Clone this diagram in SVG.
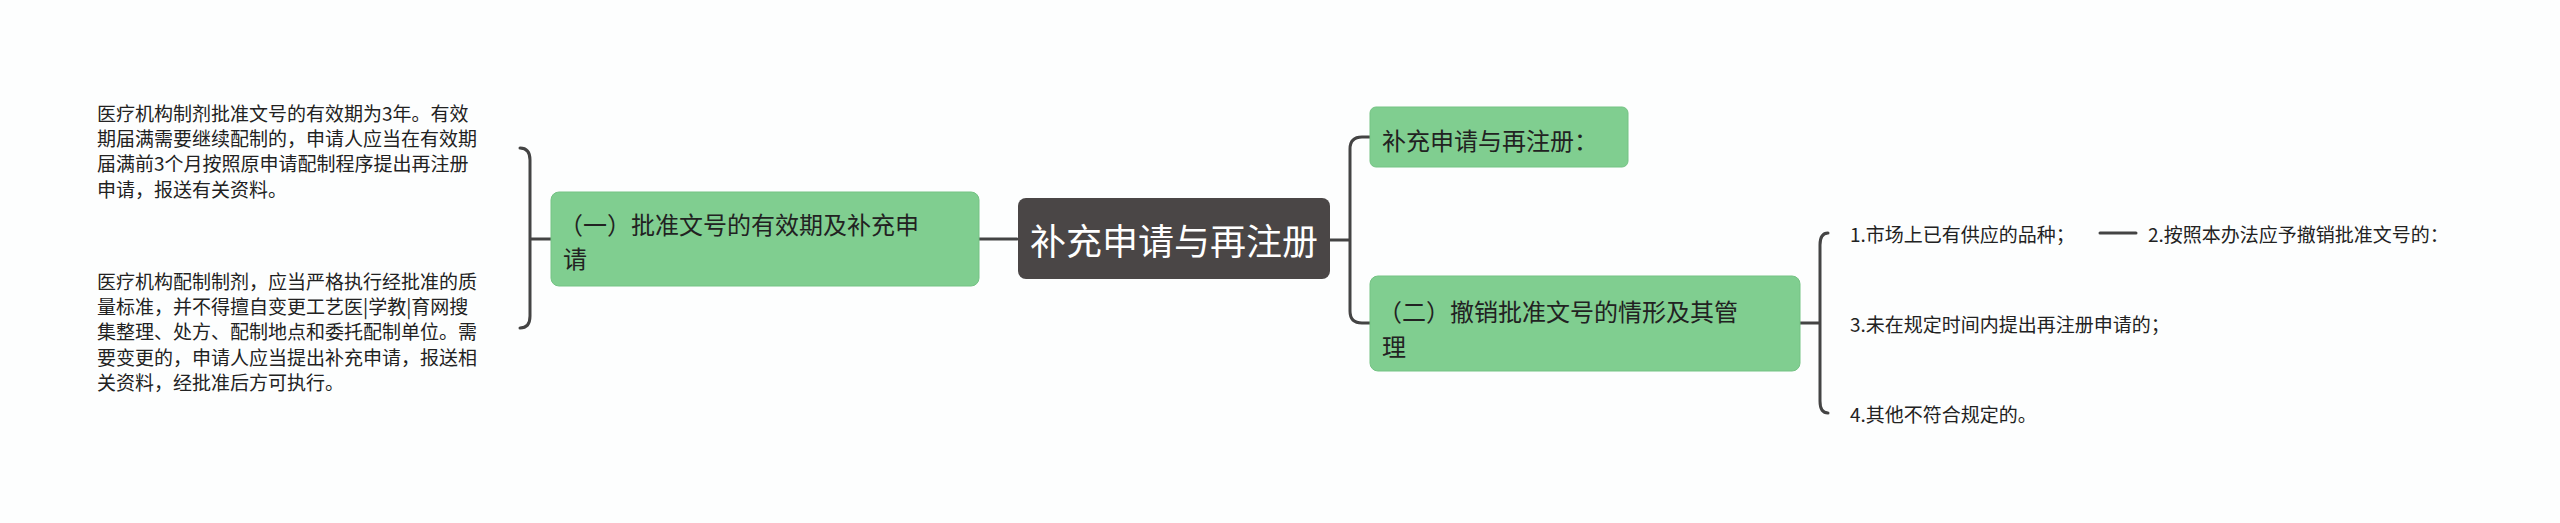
<svg xmlns="http://www.w3.org/2000/svg" width="2560" height="523" viewBox="0 0 2560 523">
<style>
text{font-family:"Noto Sans CJK SC","Noto Sans",sans-serif;fill:#222;dominant-baseline:central}
.leaf{font-size:19px}
.sub{font-size:24px}
.g{fill:#80ce90;stroke:#74c384;stroke-width:1}
.c{fill:none;stroke:#444;stroke-width:3;stroke-linecap:round}
</style>
<rect width="2560" height="523" fill="#fdfefe"/>
<g id="connectors">
<path class="c" d="M1017 239H979"/>
<path class="c" d="M551 239H530M520 148Q530 148 530 160V316Q530 328 520 328"/>
<path class="c" d="M1330 240H1350M1370 137H1362Q1350 137 1350 149V311Q1350 323 1362 323H1370"/>
<path class="c" d="M1800 323H1820M1828 233Q1820 233 1820 245V401Q1820 413 1828 413"/>
<path class="c" d="M2100 233H2136"/>
</g>
<g id="root"><rect x="1018" y="198" width="312" height="81" rx="8" fill="#4a4646"/><text x="1174" y="239" font-size="36" fill="#fff" style="fill:#fff" text-anchor="middle">补充申请与再注册</text></g>
<g id="n1"><rect class="g" x="551" y="192" width="428" height="94" rx="8"/><text class="sub" x="559" y="223">（一）批准文号的有效期及补充申</text><text class="sub" x="563" y="257">请</text></g>
<g id="n2"><rect class="g" x="1370" y="107" width="258" height="60" rx="6"/><text class="sub" x="1382" y="139">补充申请与再注册：</text></g>
<g id="n3"><rect class="g" x="1370" y="276" width="430" height="95" rx="8"/><text class="sub" x="1378" y="310">（二）撤销批准文号的情形及其管</text><text class="sub" x="1382" y="345">理</text></g>
<g id="t1"><text class="leaf" x="97" y="112">医疗机构制剂批准文号的有效期为3年。有效</text><text class="leaf" x="97" y="137">期届满需要继续配制的，申请人应当在有效期</text><text class="leaf" x="97" y="162">届满前3个月按照原申请配制程序提出再注册</text><text class="leaf" x="97" y="188">申请，报送有关资料。</text></g>
<g id="t2"><text class="leaf" x="97" y="280">医疗机构配制制剂，应当严格执行经批准的质</text><text class="leaf" x="97" y="305">量标准，并不得擅自变更工艺医|学教|育网搜</text><text class="leaf" x="97" y="330">集整理、处方、配制地点和委托配制单位。需</text><text class="leaf" x="97" y="356">要变更的，申请人应当提出补充申请，报送相</text><text class="leaf" x="97" y="381">关资料，经批准后方可执行。</text></g>
<g id="l1"><text class="leaf" x="1850" y="233">1.市场上已有供应的品种；</text></g>
<g id="l2"><text class="leaf" x="2148" y="233">2.按照本办法应予撤销批准文号的：</text></g>
<g id="l3"><text class="leaf" x="1850" y="323">3.未在规定时间内提出再注册申请的；</text></g>
<g id="l4"><text class="leaf" x="1850" y="413">4.其他不符合规定的。</text></g>
</svg>
